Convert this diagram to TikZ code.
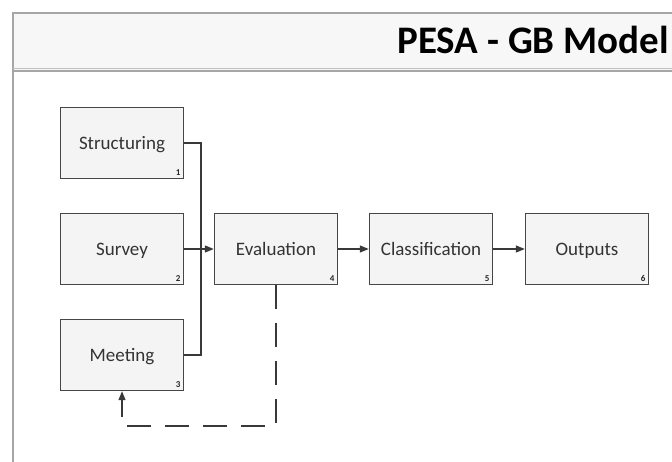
\documentclass[tikz,border=0pt]{standalone}
\usepackage{fontspec}
\setmainfont{Carlito}
\usetikzlibrary{arrows.meta}

\begin{document}
\begin{tikzpicture}[x=1pt,y=-1pt,
    stage/.style={draw=gray!55!black, line width=1.4pt, fill=gray!9,
      minimum width=123pt, minimum height=71pt, text height=13pt, text depth=1pt,
      font=\fontsize{19}{22}\selectfont, text=black!80},
    num/.style={font=\fontsize{9}{10}\selectfont\bfseries, inner sep=3.5pt, text=black!85,
      text height=, text depth=},
    link/.style={draw=gray!45!black, line width=1.2pt},
    tip/.style={-{Triangle[length=9pt,width=7pt]}}]
  % Page and outer frame
  \useasboundingbox (0,0) rectangle (672,461);
  \clip (0,0) rectangle (672,461);
  \fill[gray!6] (13,13) rectangle (680,71);
  \draw[gray!70, line width=1.5pt] (680,13) -- (13,13) -- (13,470);
  \draw[gray!50, line width=0.6pt] (13,68) -- (680,68);
  \draw[gray!70, line width=2pt] (13,71) -- (680,71);

  % Title
  \node[anchor=base east, inner sep=0pt, font=\fontsize{39}{44}\selectfont\bfseries] (title) at (669,53) {PESA - GB Model};

  % Stages
  \node[stage, label={[num, anchor=south east]south east:1}] (struct) at (122,143) {Structuring};
  \node[stage, label={[num, anchor=south east]south east:2}] (survey) at (122,249) {Survey};
  \node[stage, label={[num, anchor=south east]south east:3}] (meeting) at (122,355) {Meeting};
  \node[stage, label={[num, anchor=south east]south east:4}] (eval) at (276,249) {Evaluation};
  \node[stage, label={[num, anchor=south east]south east:5}] (classif) at (431,249) {Classification};
  \node[stage, label={[num, anchor=south east]south east:6}] (outputs) at (587,249) {Outputs};

  % Inputs merge into evaluation
  \coordinate (join) at (201,249);
  \draw[link] (struct.east) -| (join);
  \draw[link] (meeting.east) -| (join);
  \draw[link, tip] (survey.east) -- (eval.west);
  \draw[link, tip] (eval) -- (classif);
  \draw[link, tip] (classif) -- (outputs);

  % Feedback to meeting
  \coordinate (back) at (eval.south |- 0,426);
  \draw[link, dash pattern=on 24pt off 14pt, tip] (eval.south) -- (back) -| (meeting.south);
\end{tikzpicture}
\end{document}
